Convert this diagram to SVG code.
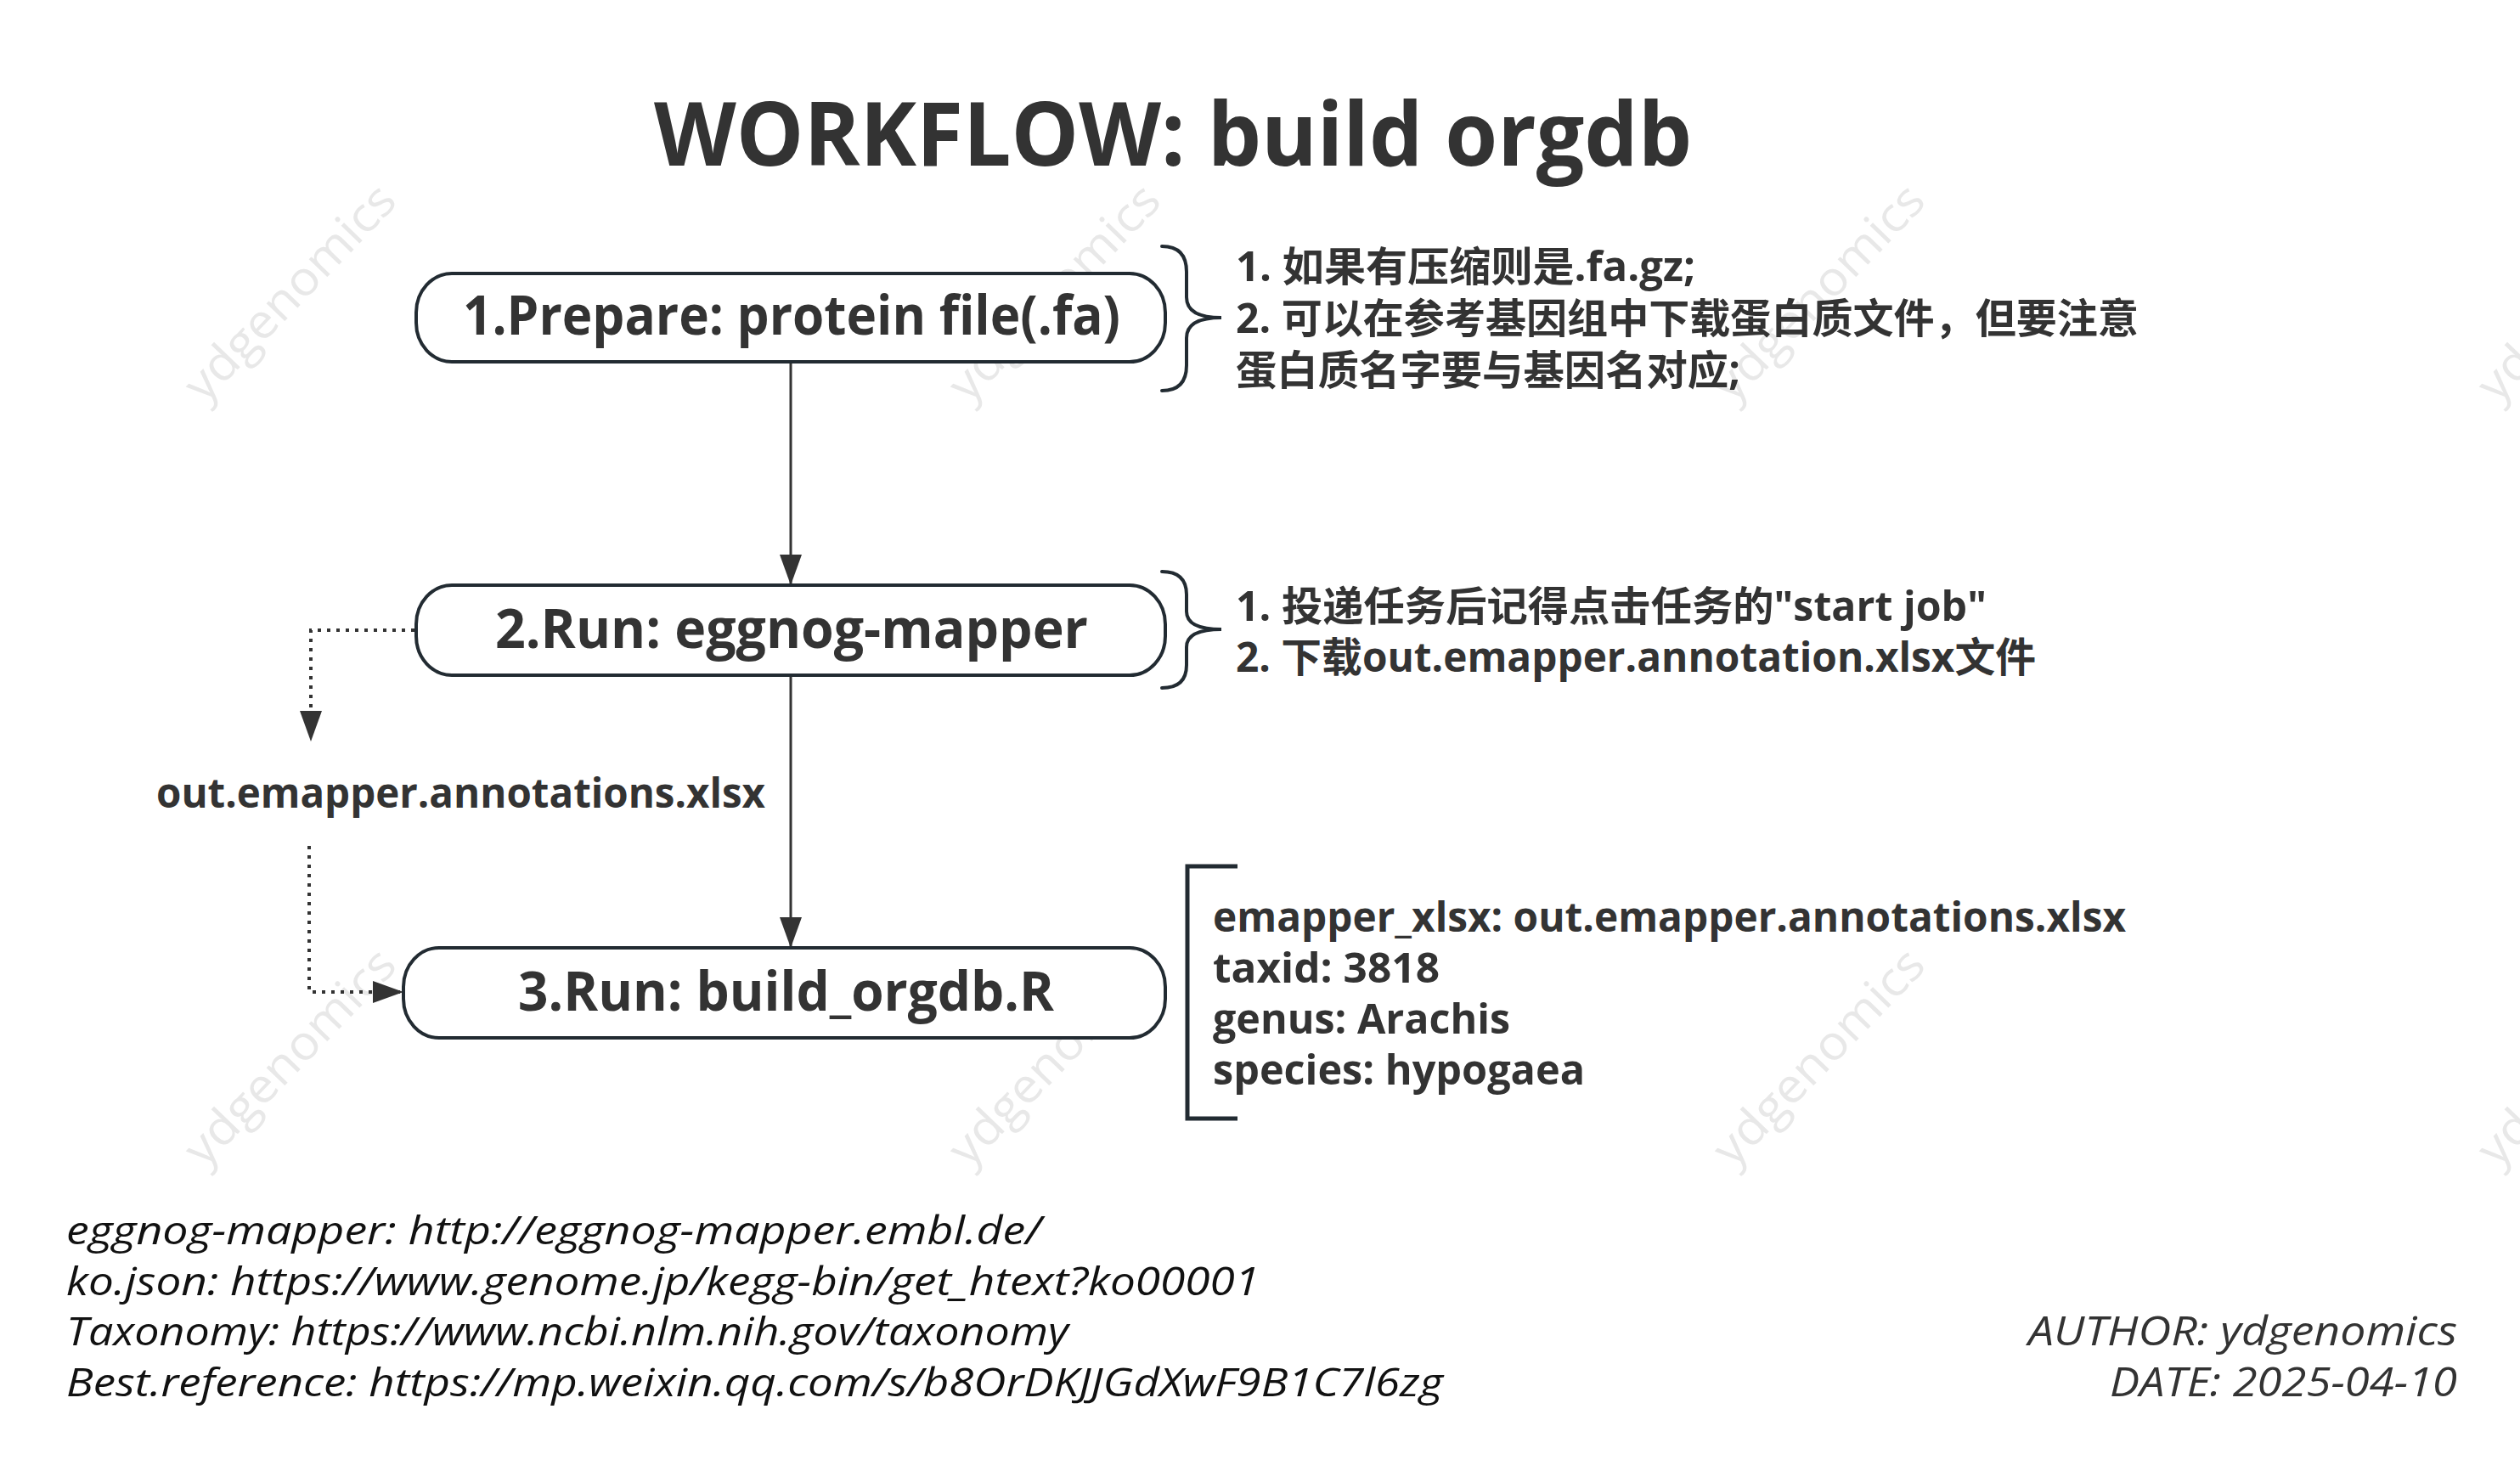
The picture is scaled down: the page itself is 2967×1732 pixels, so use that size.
<svg xmlns="http://www.w3.org/2000/svg" width="2967" height="1732" viewBox="0 0 2967 1732">
<defs>
<style>
.wm{font-family:"Open Sans","Liberation Sans",sans-serif;font-size:56px;fill:#e8e8e8;text-anchor:middle}
.b{font-family:"Open Sans","Noto Sans CJK SC",sans-serif;font-weight:bold;fill:#333}
.node rect{fill:#fff;stroke:#222b32;stroke-width:4}
.nt{font-size:64px}
.note{font-size:48px}
.foot{font-family:"Open Sans","Liberation Sans",sans-serif;font-style:italic;font-size:46px;fill:#111}
.auth{font-family:"Open Sans","Liberation Sans",sans-serif;font-style:italic;font-size:48px;fill:#333}
.conn{fill:none;stroke:#333;stroke-width:3}
.dot{fill:none;stroke:#333;stroke-width:4;stroke-dasharray:4 7}
.brace{fill:none;stroke:#222b32;stroke-width:4;stroke-linecap:round}
</style>
<marker id="arr" markerUnits="userSpaceOnUse" markerWidth="36" markerHeight="26" viewBox="0 0 36 26" refX="36" refY="13" orient="auto">
<path d="M0,0 L36,13 L0,26 z" fill="#333"/>
</marker>
</defs>
<rect width="2967" height="1732" fill="#fff"/>
<g id="watermarks">
<g transform="translate(342,345) rotate(-46)"><text class="wm" y="18" textLength="330" lengthAdjust="spacingAndGlyphs">ydgenomics</text></g>
<g transform="translate(1242,345) rotate(-46)"><text class="wm" y="18" textLength="330" lengthAdjust="spacingAndGlyphs">ydgenomics</text></g>
<g transform="translate(2142,345) rotate(-46)"><text class="wm" y="18" textLength="330" lengthAdjust="spacingAndGlyphs">ydgenomics</text></g>
<g transform="translate(3042,345) rotate(-46)"><text class="wm" y="18" textLength="330" lengthAdjust="spacingAndGlyphs">ydgenomics</text></g>
<g transform="translate(342,1245) rotate(-46)"><text class="wm" y="18" textLength="330" lengthAdjust="spacingAndGlyphs">ydgenomics</text></g>
<g transform="translate(1242,1245) rotate(-46)"><text class="wm" y="18" textLength="330" lengthAdjust="spacingAndGlyphs">ydgenomics</text></g>
<g transform="translate(2142,1245) rotate(-46)"><text class="wm" y="18" textLength="330" lengthAdjust="spacingAndGlyphs">ydgenomics</text></g>
<g transform="translate(3042,1245) rotate(-46)"><text class="wm" y="18" textLength="330" lengthAdjust="spacingAndGlyphs">ydgenomics</text></g>
</g>
<g id="title">
<text class="b" x="770" y="195" font-size="104" textLength="1222" lengthAdjust="spacingAndGlyphs">WORKFLOW: build orgdb</text>
</g>
<g id="connectors">
<line class="conn" x1="931" y1="426" x2="931" y2="689" marker-end="url(#arr)"/>
<line class="conn" x1="931" y1="795" x2="931" y2="1116" marker-end="url(#arr)"/>
<path class="dot" d="M488,742 L366,742 L366,873" marker-end="url(#arr)"/>
<path class="dot" d="M364,996 L364,1168 L475,1168" marker-end="url(#arr)"/>
</g>
<g id="node1" class="node">
<rect x="490" y="322" width="882" height="104" rx="42" ry="46"/>
<text class="b nt" x="545" y="394" textLength="774" lengthAdjust="spacingAndGlyphs">1.Prepare: protein file(.fa)</text>
</g>
<g id="node2" class="node">
<rect x="490" y="689" width="882" height="106" rx="42" ry="46"/>
<text class="b nt" x="583" y="763" textLength="698" lengthAdjust="spacingAndGlyphs">2.Run: eggnog-mapper</text>
</g>
<g id="node3" class="node">
<rect x="475" y="1116" width="897" height="106" rx="42" ry="46"/>
<text class="b nt" x="610" y="1190" textLength="631" lengthAdjust="spacingAndGlyphs">3.Run: build_orgdb.R</text>
</g>
<g id="label-xlsx">
<text class="b" x="184" y="951" font-size="48" textLength="717" lengthAdjust="spacingAndGlyphs">out.emapper.annotations.xlsx</text>
</g>
<g id="note1">
<path class="brace" d="M1368,290 Q1397,290 1397,320 L1397,350 Q1397,374 1438,374 Q1397,374 1397,398 L1397,430 Q1397,460 1368,460"/>
<text class="b note" x="1455" y="331" textLength="541" lengthAdjust="spacingAndGlyphs">1. 如果有压缩则是.fa.gz;</text>
<text class="b note" x="1455" y="392" textLength="1063" lengthAdjust="spacingAndGlyphs">2. 可以在参考基因组中下载蛋白质文件，但要注意</text>
<text class="b note" x="1455" y="453" textLength="594" lengthAdjust="spacingAndGlyphs">蛋白质名字要与基因名对应;</text>
</g>
<g id="note2">
<path class="brace" d="M1368,673 Q1397,673 1397,700 L1397,720 Q1397,741 1438,741 Q1397,741 1397,762 L1397,783 Q1397,810 1368,810"/>
<text class="b note" x="1455" y="731" textLength="884" lengthAdjust="spacingAndGlyphs">1. 投递任务后记得点击任务的"start job"</text>
<text class="b note" x="1455" y="791" textLength="942" lengthAdjust="spacingAndGlyphs">2. 下载out.emapper.annotation.xlsx文件</text>
</g>
<g id="note3">
<path fill="none" stroke="#222b32" stroke-width="5" d="M1457,1020 L1398,1020 L1398,1317 L1457,1317"/>
<text class="b note" x="1428" y="1097" textLength="1075" lengthAdjust="spacingAndGlyphs">emapper_xlsx: out.emapper.annotations.xlsx</text>
<text class="b note" x="1428" y="1157" textLength="267" lengthAdjust="spacingAndGlyphs">taxid: 3818</text>
<text class="b note" x="1428" y="1217" textLength="350" lengthAdjust="spacingAndGlyphs">genus: Arachis</text>
<text class="b note" x="1428" y="1277" textLength="438" lengthAdjust="spacingAndGlyphs">species: hypogaea</text>
</g>
<g id="footer">
<text class="foot" x="78" y="1465" textLength="1148" lengthAdjust="spacingAndGlyphs">eggnog-mapper: http://eggnog-mapper.embl.de/</text>
<text class="foot" x="78" y="1525" textLength="1405" lengthAdjust="spacingAndGlyphs">ko.json: https://www.genome.jp/kegg-bin/get_htext?ko00001</text>
<text class="foot" x="78" y="1584" textLength="1180" lengthAdjust="spacingAndGlyphs">Taxonomy: https://www.ncbi.nlm.nih.gov/taxonomy</text>
<text class="foot" x="78" y="1644" textLength="1621" lengthAdjust="spacingAndGlyphs">Best.reference: https://mp.weixin.qq.com/s/b8OrDKJJGdXwF9B1C7l6zg</text>
<text class="auth" x="2388" y="1584" textLength="505" lengthAdjust="spacingAndGlyphs">AUTHOR: ydgenomics</text>
<text class="auth" x="2484" y="1644" textLength="409" lengthAdjust="spacingAndGlyphs">DATE: 2025-04-10</text>
</g>
</svg>
